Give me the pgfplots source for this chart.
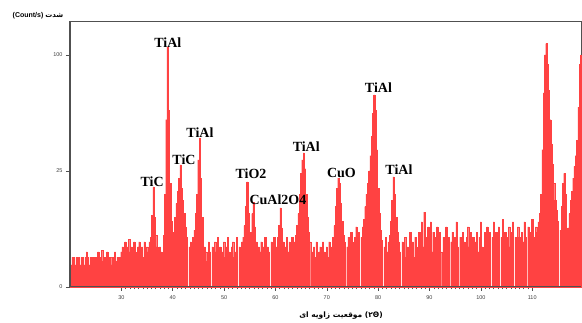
\documentclass[border=0pt]{standalone}
\usepackage{fontspec}
\setmainfont{Liberation Sans}
\newfontfamily\serifb{Liberation Serif}
\newfontfamily\arabicfont[Script=Arabic]{DejaVu Sans}
\TeXXeTstate=1
\usepackage{pgfplots}
\pgfplotsset{compat=1.18}
\definecolor{xrd}{RGB}{255,66,66}
\definecolor{axgray}{RGB}{80,80,80}
\begin{document}
\begin{tikzpicture}
\begin{axis}[
  scale only axis, width=511pt, height=266pt,
  xmin=20, xmax=119.5, ymin=0, ymax=131.4,
  y coord trafo/.code={\pgfmathparse{sqrt(#1)}},
  y coord inv trafo/.code={\pgfmathparse{(#1)^2}},
  xtick={30,40,...,110}, minor x tick num=11,
  ytick={0,25,100}, yticklabels={0,25,100},
  xtick pos=bottom, ytick pos=left,
  tick align=outside,
  major tick length=4pt, minor tick length=2.5pt,
  tick style={axgray, line width=0.5pt},
  tick label style={font=\fontsize{5.5}{6}\selectfont, text=black!75},
  /pgf/number format/assume math mode=true,
  xticklabel style={yshift=-1pt},
  axis line style={axgray, line width=0.7pt},
  clip=false,
]
\addplot[draw=xrd, fill=xrd, line width=0.3pt, const plot mark mid] coordinates {
(20,1.67)(20.25,0.9)(20.5,1.67)(20.75,1.67)(21,0.9)(21.25,1.67)(21.5,1.25)(21.75,1.67)(22,0.9)(22.25,1.67)(22.5,1.67)(22.75,0.9)(23,1.67)(23.25,2.3)(23.5,1.67)(23.75,0.9)(24,1.67)(24.25,1.25)(24.5,1.67)(24.75,0.9)(25,1.67)(25.25,1.67)(25.5,2.3)(25.75,0.9)(26,1.67)(26.25,2.5)(26.5,1.25)(26.75,1.67)(27,0.9)(27.25,2.3)(27.5,1.67)(27.75,1.25)(28,1.67)(28.25,0.9)(28.5,1.67)(28.75,2.3)(29,1.25)(29.25,1.67)(29.5,0.9)(29.75,1.67)
(30,2.3)(30.25,3.0)(30.5,1.67)(30.75,3.8)(31,2.3)(31.25,3.0)(31.5,4.2)(31.75,2.3)(32,3.0)(32.25,1.67)(32.5,3.8)(32.75,2.3)(33,1.67)(33.25,3.0)(33.5,3.8)(33.75,2.3)(34,3.0)(34.25,1.67)(34.5,3.8)(34.75,2.3)(35,3.0)(35.25,2.3)(35.5,3.8)
(35.75,4.6)(36,9.5)(36.25,18.6)(36.5,9)(36.75,5)(37,3.0)(37.25,0)(37.5,3.0)(37.75,2.3)(38,0)(38.25,5)(38.5,16)(38.75,52)(39,107)(39.25,58)(39.5,20)(39.75,8)(40,0)(40.25,5.6)(40.5,9)(40.75,13)(41,17)(41.25,22)(41.5,27.7)(41.75,18)(42,14)(42.25,10)(42.5,6.7)(42.75,4.6)(43,0)(43.25,3.0)(43.5,3.8)(43.75,0)(44,4.6)(44.25,6)(44.5,10)(44.75,16)(45,30)(45.25,41)(45.5,22)(45.75,9)(46,0)
(46.25,3.0)(46.5,2.3)(46.75,1.25)(47,3.8)(47.25,2.3)(47.5,0)(47.75,3.0)(48,1.67)(48.25,3.8)(48.5,2.3)(48.75,4.6)(49,1.67)(49.25,3.0)(49.5,0)(49.75,2.3)(50,3.8)(50.25,1.67)(50.5,3.0)(50.75,4.6)(51,2.3)(51.25,0)(51.5,3.0)(51.75,3.8)(52,1.67)(52.25,2.3)(52.5,4.6)(52.75,0)(53,3.0)(53.25,2.3)(53.5,3.8)
(53.75,4.6)(54,7)(54.25,12)(54.5,20.5)(54.75,10)(55,0)(55.25,5.6)(55.5,10)(55.75,13.4)(56,6.7)(56.25,3.8)(56.5,0)
(56.75,3.0)(57,2.3)(57.25,3.8)(57.5,0)(57.75,3.0)(58,4.6)(58.25,1.67)(58.5,3.0)(58.75,2.3)(59,0)(59.25,3.8)(59.5,3.0)(59.75,4.6)(60,2.3)(60.25,3.0)
(60.5,4.6)(60.75,7)(61,11.6)(61.25,6.5)(61.5,3.8)
(61.75,0)(62,3.0)(62.25,4.6)(62.5,2.3)(62.75,3.8)(63,0)(63.25,4.6)(63.5,3.0)(63.75,3.8)
(64,5)(64.25,7)(64.5,10)(64.75,16)(65,24)(65.25,30)(65.5,33.4)(65.75,26)(66,16)(66.25,9)(66.5,5.5)(66.75,3.8)(67,0)
(67.25,2.3)(67.5,3.0)(67.75,1.67)(68,3.8)(68.25,0)(68.5,2.3)(68.75,3.0)(69,1.67)(69.25,3.8)(69.5,2.3)(69.75,0)(70,3.0)(70.25,1.67)(70.5,3.8)(70.75,2.3)(71,3.0)
(71.25,4.6)(71.5,7)(71.75,12)(72,18)(72.25,22)(72.5,20)(72.75,13)(73,8)(73.25,5)(73.5,3.8)
(73.75,0)(74,3.0)(74.25,4.6)(74.5,2.3)(74.75,5.6)(75,3.8)(75.25,0)(75.5,4.6)(75.75,6.7)(76,3.8)(76.25,5.6)(76.5,0)(76.75,4.6)
(77,6.7)(77.25,8.5)(77.5,12)(77.75,16)(78,20)(78.25,25)(78.5,32)(78.75,42)(79,56)(79.25,68.5)(79.5,58)(79.75,35)(80,18)(80.25,10)(80.5,6)(80.75,4)(81,0)
(81.25,3.0)(81.5,4.6)(81.75,2.3)(82,3.8)
(82.25,5)(82.5,8)(82.75,14)(83,22.5)(83.25,16)(83.5,9)(83.75,5.5)(84,3.8)
(84.25,2.3)(84.5,0)(84.75,3.8)(85,2.3)(85.25,4.6)(85.5,1.67)(85.75,3.0)(86,0)(86.25,5.6)(86.5,2.3)(86.75,3.8)(87,1.67)(87.25,4.6)(87.5,3.0)(87.75,0)(88,5.6)(88.25,3.8)(88.5,7.85)(88.75,3.0)(89,10.4)(89.25,4.6)(89.5,0)(89.75,6.7)(90,3.8)(90.25,7.85)(90.5,2.3)(90.75,5.6)(91,0)(91.25,4.6)(91.5,6.7)(91.75,3.0)(92,5.6)(92.25,2.3)(92.5,0)(92.75,4.6)(93,3.0)(93.25,6.7)(93.5,2.3)(93.75,4.6)(94,0)(94.25,3.8)(94.5,5.6)(94.75,2.3)(95,4.6)(95.25,7.85)(95.5,3.0)(95.75,0)(96,4.6)(96.25,2.3)(96.5,5.6)(96.75,3.8)(97,0)(97.25,4.6)(97.5,6.7)(97.75,3.0)(98,5.6)(98.25,2.3)(98.5,4.6)(98.75,0)(99,3.8)(99.25,5.6)(99.5,2.3)(99.75,4.6)
(100,7.85)(100.25,3.0)(100.5,0)(100.75,5.6)(101,3.8)(101.25,6.7)(101.5,2.3)(101.75,5.6)(102,0)(102.25,4.6)(102.5,7.85)(102.75,3.8)(103,5.6)(103.25,2.3)(103.5,6.7)(103.75,0)(104,4.6)(104.25,8.5)(104.5,3.8)(104.75,5.6)(105,0)(105.25,4.6)(105.5,6.7)(105.75,3.0)(106,5.6)(106.25,7.85)(106.5,0)(106.75,4.6)(107,3.0)(107.25,6.7)(107.5,4.6)(107.75,0)(108,5.6)(108.25,3.8)(108.5,7.85)(108.75,4.6)(109,0)(109.25,6.7)(109.5,3.8)(109.75,5.6)(110,8.5)(110.25,4.6)(110.5,0)(110.75,6.7)(111,5.6)(111.25,7.85)
(111.5,10)(111.75,16)(112,35)(112.25,70)(112.5,100)(112.75,110)(113,92)(113.25,72)(113.5,52)(113.75,38)(114,28)(114.25,20)(114.5,14)(114.75,11)(115,8)(115.25,0)(115.5,6)(115.75,12)(116,20)(116.25,24)(116.5,16)(116.75,0)(117,6.5)(117.25,10)(117.5,14)(117.75,17)(118,22)(118.25,27)(118.5,32)(118.75,40)(119,60)(119.25,92)(119.5,100)
} \closedcycle;
\draw[axgray, line width=1.6pt] (rel axis cs:0,0) -- (rel axis cs:0,1);
\draw[axgray, line width=1pt] (rel axis cs:0,0) -- (rel axis cs:1,0);
\coordinate (o) at (rel axis cs:0,0);
\coordinate (tl) at (rel axis cs:0,1);
\begin{scope}[every node/.style={font=\serifb\bfseries\fontsize{14}{14}\selectfont, inner sep=0pt}]
\node at (axis cs:39.05,110.6) {TiAl};
\node at (axis cs:36.0,20.6) {TiC};
\node at (axis cs:42.2,30.0) {TiC};
\node at (axis cs:45.3,44.1) {TiAl};
\node at (axis cs:55.25,23.7) {TiO2};
\node at (axis cs:60.5,14.06) {CuAl2O4};
\node at (axis cs:66.0,36.6) {TiAl};
\node at (axis cs:72.86,24.1) {CuO};
\node at (axis cs:80.06,73.6) {TiAl};
\node at (axis cs:84.05,25.4) {TiAl};
\end{scope}
\end{axis}
\node[font=\bfseries\fontsize{7}{8}\selectfont, inner sep=0pt] at ([shift={(-32pt,5.5pt)}]tl)
  {(Count/s) {\arabicfont\bfseries\beginR شدت\endR}};
\node[font=\arabicfont\bfseries\fontsize{7.5}{8}\selectfont, inner sep=0pt] at ([shift={(271pt,-29pt)}]o)
  {{\beginR ای\endR} {\beginR زاویه\endR} {\beginR موقعیت\endR} (۲Θ)};
\pgfresetboundingbox
\path[use as bounding box] ([shift={(-70pt,-36pt)}]o) rectangle ([shift={(512pt,287pt)}]o);
\end{tikzpicture}
\end{document}
